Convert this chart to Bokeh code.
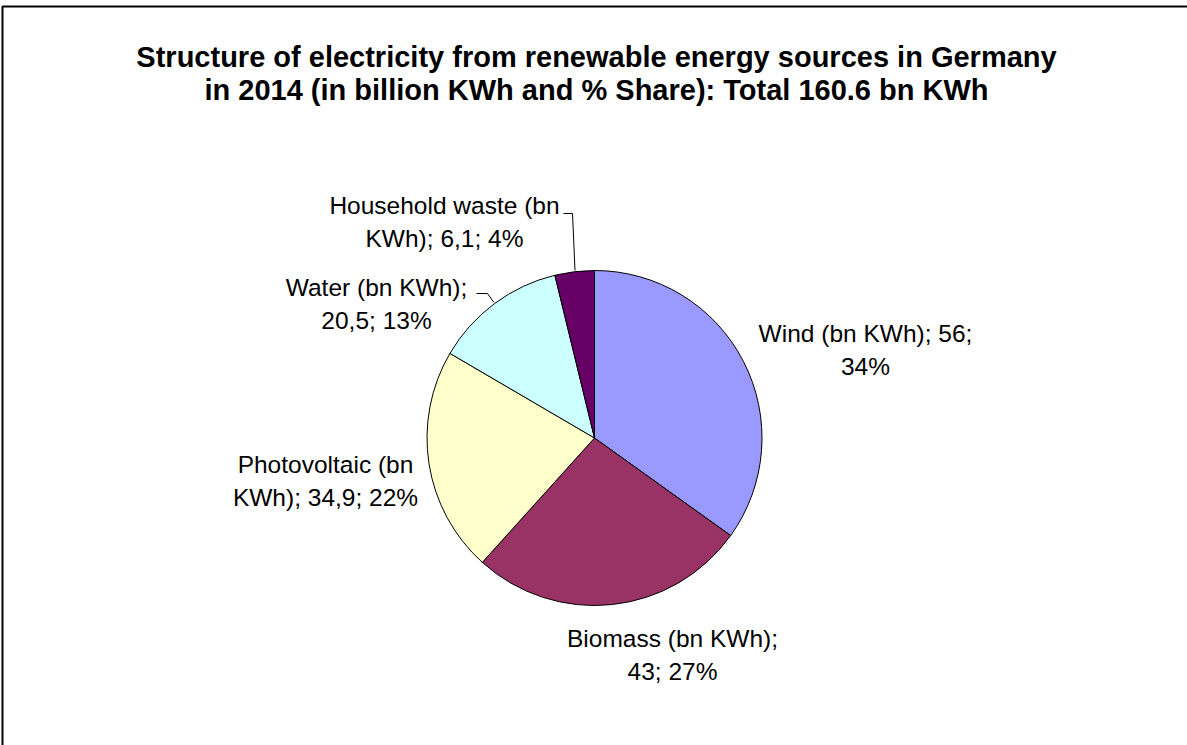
import numpy as np
from bokeh.plotting import figure
from bokeh.models import Range1d, ColumnDataSource
from bokeh.core.properties import value
from bokeh.embed import file_html
from bokeh.resources import INLINE

# Renewable electricity in Germany, 2014 (billion kWh)
sources = ["Wind", "Biomass", "Photovoltaic", "Water", "Household waste"]
values_bn_kwh = [56, 43, 34.9, 20.5, 6.1]
value_texts = ["56", "43", "34,9", "20,5", "6,1"]
share_texts = ["34%", "27%", "22%", "13%", "4%"]
colors = ["#9999FF", "#993366", "#FFFFCC", "#CCFFFF", "#660066"]

title_lines = [
    "Structure of electricity from renewable energy sources in Germany",
    "in 2014 (in billion KWh and % Share): Total 160.6 bn KWh",
]

W, H = 1187, 745
FONT = "Liberation Sans"


def yt(y):
    """Convert a top-based pixel row into the plot's upward y coordinate."""
    return H - y


p = figure(width=W, height=H, x_range=Range1d(0, W), y_range=Range1d(0, H),
           output_backend="svg", toolbar_location=None, min_border=0,
           x_axis_type=None, y_axis_type=None)
p.grid.visible = False
p.outline_line_color = None
p.background_fill_color = "white"
p.border_fill_color = "white"

# chart frame (left and top edges are within the page)
p.line([2, 2, W + 10], [yt(H + 10), yt(6), yt(6)], line_color="black", line_width=2)

# pie: starts at 12 o'clock and runs clockwise
cx, cy, r = 594, yt(437.5), 167.5
vals = np.array(values_bn_kwh, dtype=float)
frac = vals / vals.sum()
cum = np.concatenate([[0.0], np.cumsum(frac)])
start = np.pi / 2 - 2 * np.pi * cum[:-1]
end = np.pi / 2 - 2 * np.pi * cum[1:]
src = ColumnDataSource(dict(start=start, end=end, color=colors, name=sources))
p.wedge(x=cx, y=cy, radius=r, start_angle="start", end_angle="end",
        direction="clock", fill_color="color", line_color="black",
        line_width=1, source=src)

# title
for i, line in enumerate(title_lines):
    p.text(x=[596], y=[yt(56 + 33.3 * i)], text=[line], text_align="center",
           text_baseline="alphabetic", text_font=value(FONT),
           text_font_style="bold", text_font_size="29px", text_color="black")

# data labels: "<source> (bn KWh); <value>; <share>" wrapped over two lines
first_line_words = [4, 3, 2, 3, 3]
label_pos = [(865, 333), (672, 638), (325, 463.5), (376, 287), (444, 205)]
for k in range(len(sources)):
    words = f"{sources[k]} (bn KWh); {value_texts[k]}; {share_texts[k]}".split(" ")
    n = first_line_words[k]
    lines = [" ".join(words[:n]), " ".join(words[n:])]
    lx, ly = label_pos[k]
    for j, t in enumerate(lines):
        p.text(x=[lx], y=[yt(ly + 33 * j)], text=[t], text_align="center",
               text_baseline="alphabetic", text_font=value(FONT),
               text_font_size="24.5px", text_color="black")

# leader lines for the two small slices
p.line([476, 487, 493.5], [yt(293), yt(293), yt(302)], line_color="black", line_width=1)
p.line([563, 572, 574.5], [yt(213), yt(213), yt(270)], line_color="black", line_width=1)

open("out.html", "w").write(file_html(p, INLINE))
